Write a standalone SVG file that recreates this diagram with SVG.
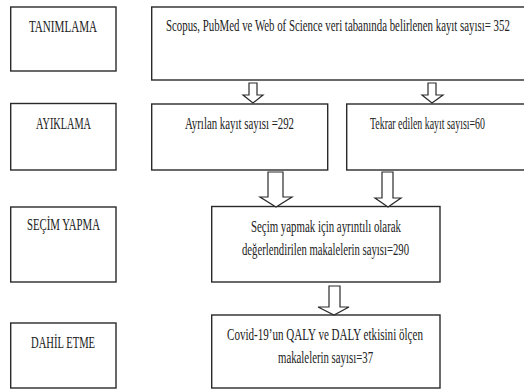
<svg xmlns="http://www.w3.org/2000/svg" width="524" height="390" viewBox="0 0 524 390">
<style>
.box{fill:#fff;stroke:#2a2a2a;stroke-width:1.4}
.arr{fill:#fff;stroke:#2a2a2a;stroke-width:1.2;stroke-linejoin:miter}
.t{font-family:'Liberation Serif','DejaVu Serif',serif;font-size:16px;fill:#222}
</style>
<rect width="524" height="390" fill="#fff"/>
<g id="tanimlama"><rect class="box" x="10.7" y="7" width="105.3" height="64"/><text class="t" transform="translate(29,32) scale(0.65,1)" textLength="104.6" lengthAdjust="spacingAndGlyphs">TANIMLAMA</text></g>
<g id="ayiklama"><rect class="box" x="10.7" y="103.5" width="105.3" height="66.5"/><text class="t" transform="translate(36,129) scale(0.65,1)" textLength="84.6" lengthAdjust="spacingAndGlyphs">AYIKLAMA</text></g>
<g id="secim"><rect class="box" x="10.7" y="207" width="105.3" height="75"/><text class="t" transform="translate(27,230) scale(0.65,1)" textLength="112.3" lengthAdjust="spacingAndGlyphs">SEÇİM YAPMA</text></g>
<g id="dahil"><rect class="box" x="10.7" y="323" width="105.3" height="65"/><text class="t" transform="translate(31,348) scale(0.65,1)" textLength="98.5" lengthAdjust="spacingAndGlyphs">DAHİL ETME</text></g>
<g id="kayit"><rect class="box" x="151.7" y="7" width="380" height="73"/><text class="t" transform="translate(166,31) scale(0.65,1)" textLength="529" lengthAdjust="spacingAndGlyphs">Scopus, PubMed ve Web of Science veri tabanında belirlenen kayıt sayısı= 352</text></g>
<g id="ayrilan"><rect class="box" x="151.7" y="104" width="176" height="66"/><text class="t" transform="translate(185,129) scale(0.65,1)" textLength="167.7" lengthAdjust="spacingAndGlyphs">Ayrılan kayıt sayısı =292</text></g>
<g id="tekrar"><rect class="box" x="346.7" y="104" width="185" height="66"/><text class="t" transform="translate(370,129) scale(0.65,1)" textLength="176.9" lengthAdjust="spacingAndGlyphs">Tekrar edilen kayıt sayısı=60</text></g>
<g id="secimkutu"><rect class="box" x="211.7" y="206.5" width="228.3" height="75.5"/><text class="t" transform="translate(251,232) scale(0.65,1)" textLength="230.8" lengthAdjust="spacingAndGlyphs">Seçim yapmak için ayrıntılı olarak</text><text class="t" transform="translate(242,255) scale(0.65,1)" textLength="256.9" lengthAdjust="spacingAndGlyphs">değerlendirilen makalelerin sayısı=290</text></g>
<g id="dahilkutu"><rect class="box" x="211.7" y="315" width="228.3" height="73"/><text class="t" transform="translate(227,340) scale(0.65,1)" textLength="301.5" lengthAdjust="spacingAndGlyphs">Covid-19’un QALY ve DALY etkisini ölçen</text><text class="t" transform="translate(278,363) scale(0.65,1)" textLength="146.2" lengthAdjust="spacingAndGlyphs">makalelerin sayısı=37</text></g>
<g id="connectors">
<path class="arr" d="M249,83 H257 V95 H263 L253,103 L243,95 H249 Z"/>
<path class="arr" d="M428,83 H436 V95 H443 L432,103 L422,95 H428 Z"/>
<path class="arr" d="M268,172 H283 V197 H292 L276,207 L260,197 H268 Z"/>
<path class="arr" d="M382,172 H393 V198 H401 L388,207 L375,198 H382 Z"/>
<path class="arr" d="M329,286 H340 V307 H349 L334,315 L318,307 H329 Z"/>
</g>
</svg>
